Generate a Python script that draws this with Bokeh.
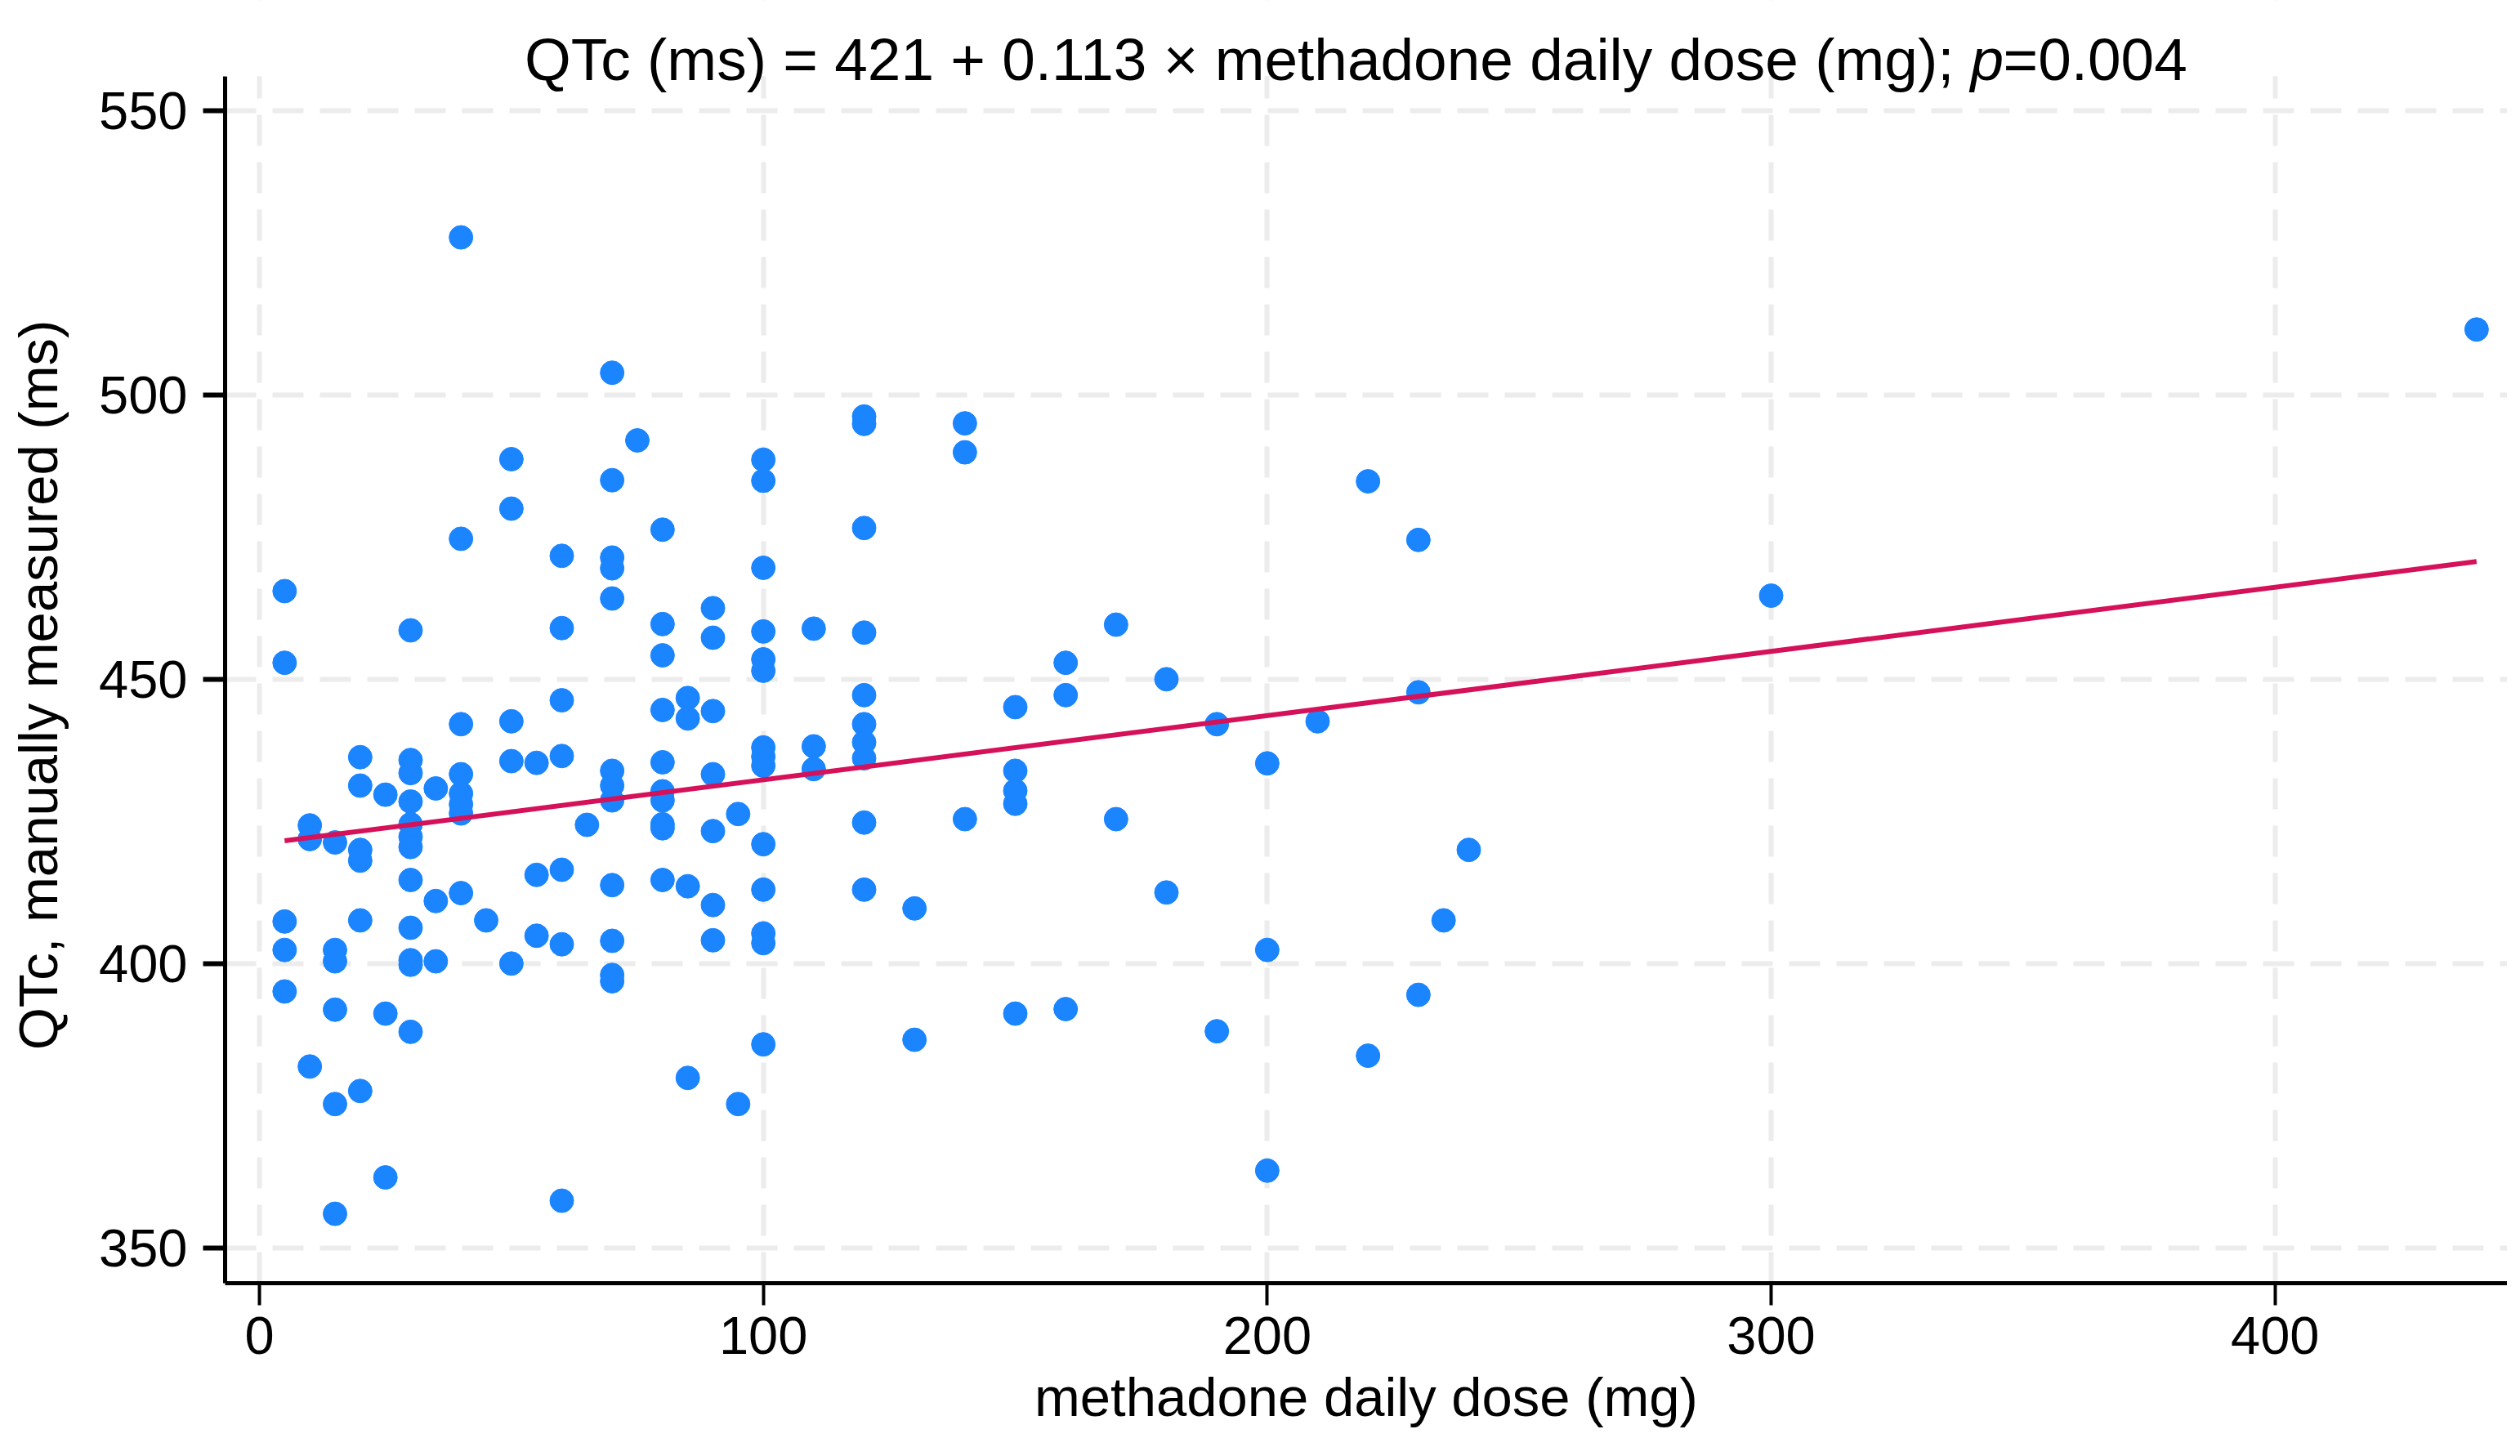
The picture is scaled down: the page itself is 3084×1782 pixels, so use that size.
from math import pi
from bokeh.plotting import figure
from bokeh.models import Range1d, FixedTicker, Label, BoxAnnotation
from bokeh.embed import file_html
from bokeh.resources import INLINE

# methadone daily dose (mg) and manually measured QTc (ms)
dose = [5, 5, 5, 5, 5,
        10, 10, 10,
        15, 15, 15, 15, 15, 15,
        20, 20, 20, 20, 20, 20,
        25, 25, 25,
        30, 30, 30, 30, 30, 30, 30, 30, 30, 30, 30, 30,
        35, 35, 35,
        40, 40, 40, 40, 40, 40, 40, 40,
        45,
        50, 50, 50, 50, 50,
        55, 55, 55,
        60, 60, 60, 60, 60, 60, 60,
        65,
        70, 70, 70, 70, 70, 70, 70, 70, 70, 70, 70, 70,
        75,
        80, 80, 80, 80, 80, 80, 80, 80, 80, 80,
        85, 85, 85, 85,
        90, 90, 90, 90, 90, 90, 90,
        95, 95,
        100, 100, 100, 100, 100, 100, 100, 100, 100, 100, 100, 100, 100, 100,
        110, 110, 110,
        120, 120, 120, 120, 120, 120, 120, 120, 120, 120,
        130, 130,
        140, 140, 140,
        150, 150, 150, 150, 150,
        160, 160, 160,
        170, 170,
        180, 180,
        190, 190,
        200, 200, 200,
        210,
        220, 220,
        230, 230, 230,
        235,
        240,
        300,
        440]

qtc = [465.5, 452.9, 407.4, 402.4, 395.1,
       424.3, 421.9, 381.9,
       421.3, 402.4, 400.4, 391.9, 375.3, 356.0,
       436.3, 431.3, 420.0, 418.1, 407.6, 377.6,
       429.7, 391.2, 362.4,
       458.6, 435.8, 433.5, 428.5, 424.5, 422.3, 420.5, 414.7, 406.3, 400.6, 399.8, 388.0,
       430.8, 411.0, 400.4,
       527.7, 474.7, 442.1, 433.3, 429.9, 428.0, 426.4, 412.4,
       407.6,
       488.7, 480.0, 442.6, 435.6, 400.0,
       435.3, 415.6, 404.9,
       471.7, 459.0, 446.3, 436.5, 416.5, 403.4, 358.3,
       424.4,
       503.9, 485.0, 471.4, 469.5, 464.2, 433.9, 431.3, 428.7, 413.8, 404.0, 398.0, 396.9,
       492.0,
       476.3, 459.7, 454.2, 444.6, 435.4, 430.3, 428.7, 424.5, 423.8, 414.7,
       446.7, 443.1, 413.6, 379.9,
       462.5, 457.3, 444.4, 433.3, 423.3, 410.3, 404.1,
       426.3, 375.3,
       488.6, 484.9, 469.6, 458.4, 453.5, 451.5, 438.0, 436.4, 434.8, 421.0, 413.0, 405.3, 403.6, 385.8,
       458.9, 438.2, 434.2,
       496.2, 494.9, 476.6, 458.2, 447.2, 442.1, 438.9, 436.1, 424.8, 413.0,
       409.7, 386.6,
       495.0, 489.9, 425.4,
       445.1, 433.9, 430.4, 428.1, 391.2,
       452.9, 447.2, 392.0,
       459.6, 425.4,
       450.0, 412.5,
       442.1, 388.1,
       435.2, 402.4, 363.6,
       442.6,
       484.8, 383.8,
       474.5, 447.7, 394.5,
       407.6,
       420.0,
       464.7,
       511.5]

# fitted line QTc = 421 + 0.113 * dose, drawn over the observed dose span
fit_dose = [5, 440]
fit_qtc = [421.6, 470.7]

x_ticks = [0, 100, 200, 300, 400]
y_ticks = [350, 400, 450, 500, 550]

FONT = "Liberation Sans"
Y_LO, Y_HI = 343.8, 556.03   # visible plot region; the frame goes higher to hold the title

p = figure(width=3068, height=1766, output_backend="svg", toolbar_location=None,
           x_range=Range1d(-6.81, 446.1), y_range=Range1d(Y_LO, 569.37),
           min_border_left=275, min_border_right=0, min_border_top=0, min_border_bottom=196)
p.outline_line_color = None
p.background_fill_color = "white"
p.border_fill_color = "white"

# grid
for g in (p.xgrid, p.ygrid):
    g.grid_line_color = "#ececec"
    g.grid_line_width = 6
    g.grid_line_dash = "38 20"
p.xgrid.ticker = FixedTicker(ticks=x_ticks)
p.ygrid.ticker = FixedTicker(ticks=y_ticks)

# axes
p.xaxis.ticker = FixedTicker(ticks=x_ticks)
p.yaxis.ticker = FixedTicker(ticks=y_ticks)
p.yaxis.bounds = (Y_LO, Y_HI)
for ax in (p.xaxis, p.yaxis):
    ax.axis_line_color = "black"
    ax.axis_line_width = 5
    ax.major_tick_line_color = "black"
    ax.major_tick_out = 27
    ax.major_tick_in = 0
    ax.minor_tick_line_color = None
    ax.major_label_text_font = FONT
    ax.major_label_text_font_size = "65px"
    ax.major_label_text_color = "black"
    ax.axis_label_text_font = FONT
    ax.axis_label_text_font_size = "67px"
    ax.axis_label_text_font_style = "normal"
    ax.axis_label_text_color = "black"
p.xaxis.major_tick_line_width = 4
p.yaxis.major_tick_line_width = 6
p.xaxis.major_label_standoff = 14
p.yaxis.major_label_standoff = 19
p.xaxis.axis_label = "methadone daily dose (mg)"
p.xaxis.axis_label_standoff = 12

# y axis title as a rotated label in the left panel, centred on the visible plot region
p.add_layout(Label(x=3, y=732, x_units="screen", y_units="screen", angle=pi / 2,
                   text="QTc, manually measured (ms)", text_font=FONT, text_font_size="67px",
                   text_align="center", text_baseline="alphabetic", text_color="black"), "left")

p.scatter(dose, qtc, size=29, color="#1a85ff", line_color="#1a85ff")
p.line(fit_dose, fit_qtc, line_width=6, color="#d41159")

# blank band above the plot region, the title sits on it
p.add_layout(BoxAnnotation(bottom=Y_HI, fill_color="white", fill_alpha=1.0, line_color=None))

# title in three pieces so that p can be italic
title_y = 1498
p_x = 2136
TS = "73px"
p.add_layout(Label(x=p_x - 20, y=title_y, x_units="screen", y_units="screen",
                   text="QTc (ms) = 421 + 0.113 × methadone daily dose (mg);",
                   text_font=FONT, text_font_size=TS, text_align="right",
                   text_baseline="alphabetic", text_color="black"))
p.add_layout(Label(x=p_x, y=title_y, x_units="screen", y_units="screen",
                   text="p", text_font=FONT, text_font_size=TS, text_font_style="italic",
                   text_align="left", text_baseline="alphabetic", text_color="black"))
p.add_layout(Label(x=p_x + 40, y=title_y, x_units="screen", y_units="screen",
                   text="=0.004", text_font=FONT, text_font_size=TS,
                   text_align="left", text_baseline="alphabetic", text_color="black"))

open("out.html", "w").write(file_html(p, INLINE))
